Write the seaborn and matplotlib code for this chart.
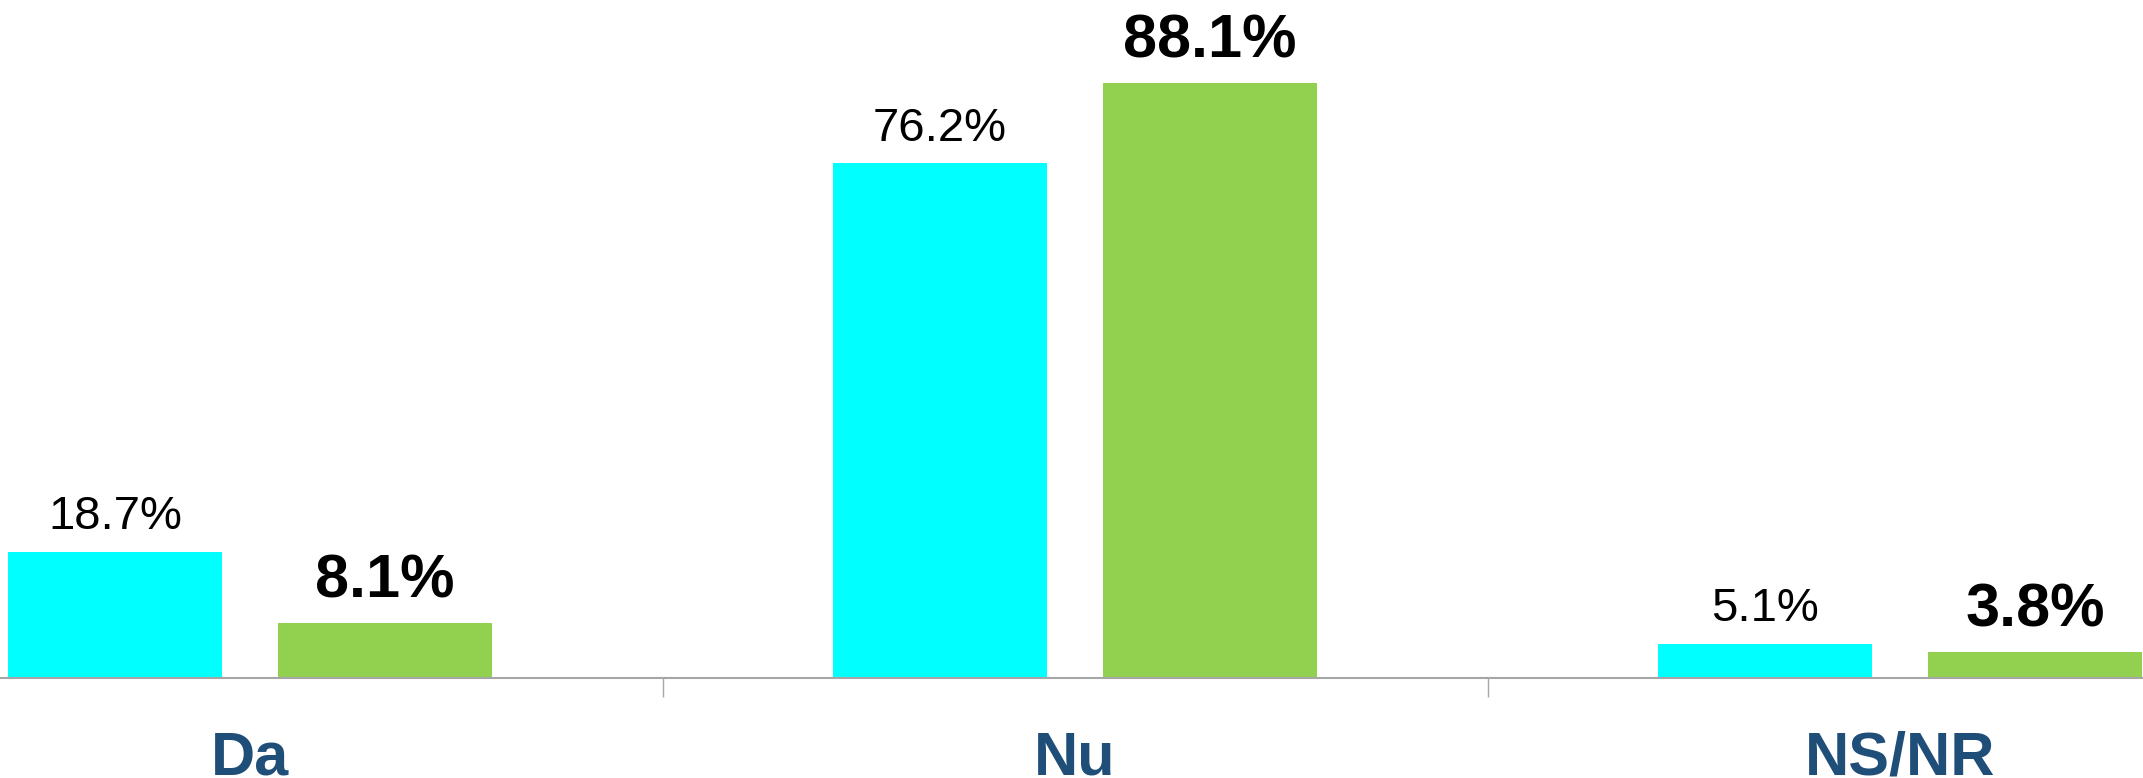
import pandas as pd
import matplotlib.pyplot as plt
import seaborn as sns

# Date
categorii = ['Da', 'Nu', 'NS/NR']
serie_1 = [18.7, 76.2, 5.1]
serie_2 = [8.1, 88.1, 3.8]
serii = ['Serie 1', 'Serie 2']
culori = ['#00FFFF', '#92D050']

df = pd.DataFrame({
    'raspuns': categorii * 2,
    'valoare': serie_1 + serie_2,
    'serie': [serii[0]] * len(categorii) + [serii[1]] * len(categorii),
})

sns.set_style('white')
plt.rcParams['font.family'] = ['Liberation Sans', 'DejaVu Sans']

W, H = 2143, 778
fig = plt.figure(figsize=(W / 100, H / 100), dpi=100)
# axa depaseste putin figura (graficul original e decupat)
ax = fig.add_axes([-162.5 / W, 100 / H, 2475 / W, 675.7 / H])

sns.barplot(data=df, x='raspuns', y='valoare', hue='serie', palette=culori,
            width=0.6545, gap=0.205, saturation=1, linewidth=0,
            legend=False, ax=ax)

ax.set_xlim(-0.5, 2.5)
ax.set_ylim(0, 100)
ax.set_xlabel('')
ax.set_ylabel('')
ax.set_yticks([])

for s in ['top', 'left', 'right']:
    ax.spines[s].set_visible(False)
ax.spines['bottom'].set_color('#A6A6A6')
ax.spines['bottom'].set_linewidth(1.5)

# etichete categorii
ax.tick_params(axis='x', which='major', length=0, pad=38,
               labelsize=44, labelcolor='#1F4E79')
for lbl in ax.get_xticklabels():
    lbl.set_fontweight('bold')

# separatoare intre categorii
ax.set_xticks([0.5, 1.5], minor=True)
ax.tick_params(axis='x', which='minor', bottom=True, length=14, width=1,
               color='#A6A6A6')

# etichete valori
ax.bar_label(ax.containers[0], fmt='%.1f%%', padding=9, fontsize=34,
             color='black')
ax.bar_label(ax.containers[1], fmt='%.1f%%', padding=9, fontsize=44,
             fontweight='bold', color='black')

plt.savefig('out.png', dpi=100)
